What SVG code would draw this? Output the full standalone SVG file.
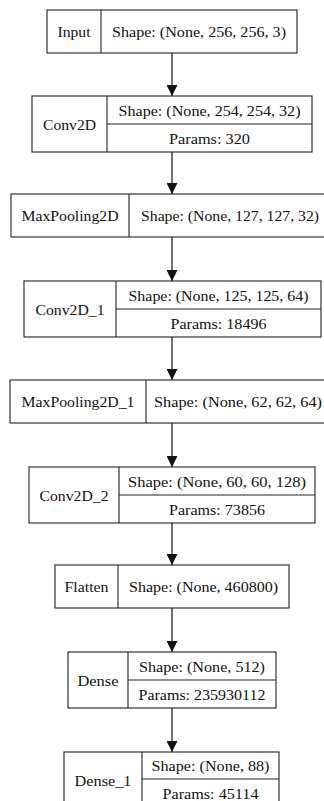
<svg xmlns="http://www.w3.org/2000/svg" width="324" height="801" viewBox="0 0 324 801">
<defs>
<style>
.b{fill:#fff;stroke:#222;stroke-width:1.1}
.d{stroke:#222;stroke-width:1.1;fill:none}
text{font-family:"Liberation Serif","Times New Roman",serif;font-size:15px;fill:#111;text-anchor:middle}
.e{stroke:#111;stroke-width:1.2;fill:none}
</style>
<marker id="ah" viewBox="0 0 10 10" refX="10" refY="5" markerWidth="11" markerHeight="11" markerUnits="userSpaceOnUse" orient="auto">
<path d="M0,0 L10,5 L0,10 z" fill="#111"/>
</marker>
</defs>
<rect width="324" height="801" fill="#fff"/>
<g id="edges">
<line class="e" x1="172" y1="53" x2="172" y2="96" marker-end="url(#ah)"/>
<line class="e" x1="172" y1="152" x2="172" y2="194" marker-end="url(#ah)"/>
<line class="e" x1="172" y1="237" x2="172" y2="281" marker-end="url(#ah)"/>
<line class="e" x1="172" y1="337" x2="172" y2="380" marker-end="url(#ah)"/>
<line class="e" x1="172" y1="423" x2="172" y2="467" marker-end="url(#ah)"/>
<line class="e" x1="172" y1="523" x2="172" y2="565" marker-end="url(#ah)"/>
<line class="e" x1="172" y1="608" x2="172" y2="652" marker-end="url(#ah)"/>
<line class="e" x1="172" y1="708" x2="172" y2="752" marker-end="url(#ah)"/>
</g>
<g id="input">
<rect class="b" x="47" y="10" width="250" height="43"/>
<line class="d" x1="101" y1="10" x2="101" y2="53"/>
<text x="74" y="37" textLength="33" lengthAdjust="spacingAndGlyphs">Input</text>
<text x="199" y="37" textLength="174" lengthAdjust="spacingAndGlyphs">Shape: (None, 256, 256, 3)</text>
</g>
<g id="conv2d">
<rect class="b" x="32" y="96" width="280" height="56"/>
<line class="d" x1="107" y1="96" x2="107" y2="152"/>
<line class="d" x1="107" y1="124" x2="312" y2="124"/>
<text x="69.5" y="130" textLength="53" lengthAdjust="spacingAndGlyphs">Conv2D</text>
<text x="209.5" y="115.5" textLength="182" lengthAdjust="spacingAndGlyphs">Shape: (None, 254, 254, 32)</text>
<text x="209.5" y="143.5" textLength="81" lengthAdjust="spacingAndGlyphs">Params: 320</text>
</g>
<g id="maxpooling2d">
<rect class="b" x="11" y="194" width="322" height="43"/>
<line class="d" x1="129" y1="194" x2="129" y2="237"/>
<text x="70" y="221" textLength="97" lengthAdjust="spacingAndGlyphs">MaxPooling2D</text>
<text x="230" y="221" textLength="178" lengthAdjust="spacingAndGlyphs">Shape: (None, 127, 127, 32)</text>
</g>
<g id="conv2d_1">
<rect class="b" x="24" y="281" width="297" height="56"/>
<line class="d" x1="116" y1="281" x2="116" y2="337"/>
<line class="d" x1="116" y1="309" x2="321" y2="309"/>
<text x="70" y="315" textLength="69" lengthAdjust="spacingAndGlyphs">Conv2D_1</text>
<text x="218.5" y="300.5" textLength="180" lengthAdjust="spacingAndGlyphs">Shape: (None, 125, 125, 64)</text>
<text x="218.5" y="328.5" textLength="96" lengthAdjust="spacingAndGlyphs">Params: 18496</text>
</g>
<g id="maxpooling2d_1">
<rect class="b" x="10" y="380" width="324" height="43"/>
<line class="d" x1="146" y1="380" x2="146" y2="423"/>
<text x="78" y="407" textLength="113" lengthAdjust="spacingAndGlyphs">MaxPooling2D_1</text>
<text x="238" y="407" textLength="168" lengthAdjust="spacingAndGlyphs">Shape: (None, 62, 62, 64)</text>
</g>
<g id="conv2d_2">
<rect class="b" x="29" y="467" width="286" height="56"/>
<line class="d" x1="119" y1="467" x2="119" y2="523"/>
<line class="d" x1="119" y1="495" x2="315" y2="495"/>
<text x="74" y="501" textLength="69" lengthAdjust="spacingAndGlyphs">Conv2D_2</text>
<text x="217" y="486.5" textLength="178" lengthAdjust="spacingAndGlyphs">Shape: (None, 60, 60, 128)</text>
<text x="217" y="514.5" textLength="96" lengthAdjust="spacingAndGlyphs">Params: 73856</text>
</g>
<g id="flatten">
<rect class="b" x="55" y="565" width="234" height="43"/>
<line class="d" x1="118" y1="565" x2="118" y2="608"/>
<text x="86.5" y="592" textLength="44" lengthAdjust="spacingAndGlyphs">Flatten</text>
<text x="203.5" y="592" textLength="149" lengthAdjust="spacingAndGlyphs">Shape: (None, 460800)</text>
</g>
<g id="dense">
<rect class="b" x="68" y="652" width="208" height="56"/>
<line class="d" x1="128" y1="652" x2="128" y2="708"/>
<line class="d" x1="128" y1="680" x2="276" y2="680"/>
<text x="98" y="686" textLength="41" lengthAdjust="spacingAndGlyphs">Dense</text>
<text x="202" y="671.5" textLength="126" lengthAdjust="spacingAndGlyphs">Shape: (None, 512)</text>
<text x="202" y="699.5" textLength="127" lengthAdjust="spacingAndGlyphs">Params: 235930112</text>
</g>
<g id="dense_1">
<rect class="b" x="64" y="752" width="215" height="56"/>
<line class="d" x1="142" y1="752" x2="142" y2="808"/>
<line class="d" x1="142" y1="779" x2="279" y2="779"/>
<text x="103" y="786" textLength="57" lengthAdjust="spacingAndGlyphs">Dense_1</text>
<text x="210.5" y="771" textLength="118" lengthAdjust="spacingAndGlyphs">Shape: (None, 88)</text>
<text x="210.5" y="799" textLength="96" lengthAdjust="spacingAndGlyphs">Params: 45114</text>
</g>
</svg>
